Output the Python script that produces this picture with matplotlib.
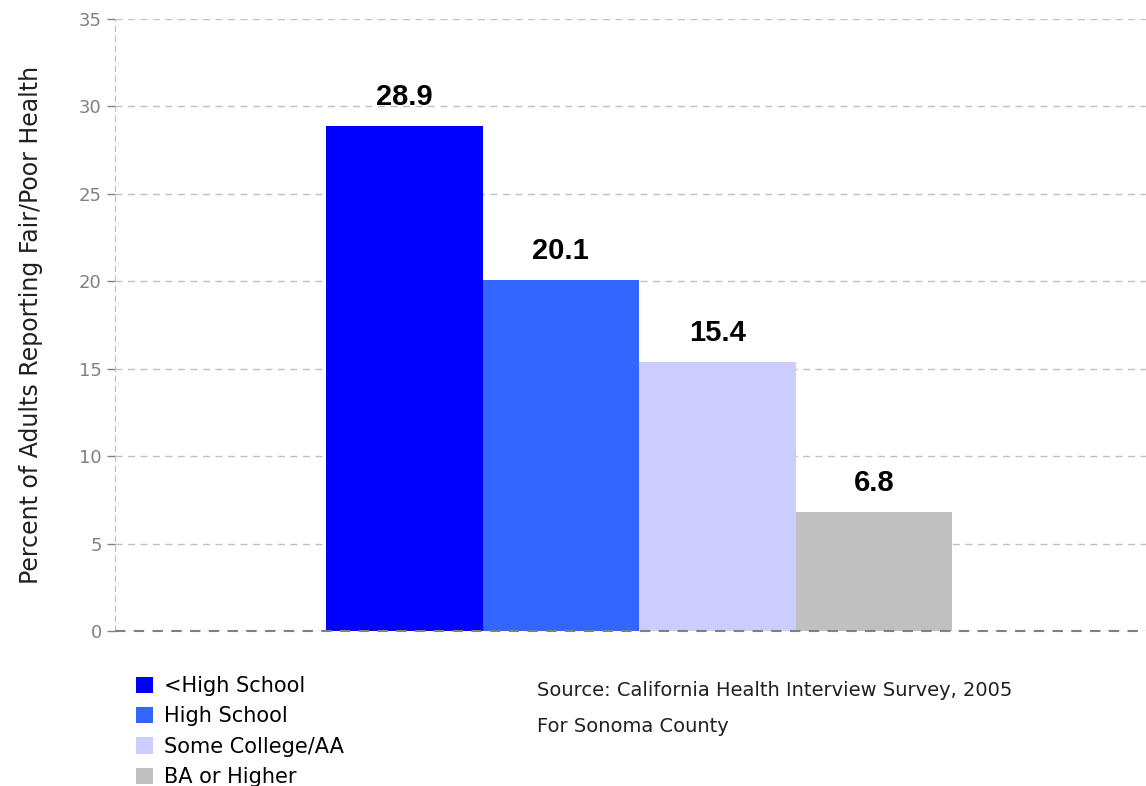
import matplotlib.pyplot as plt
from matplotlib.patches import Patch

categories = ["<High School", "High School", "Some College/AA", "BA or Higher"]
values = [28.9, 20.1, 15.4, 6.8]
colors = ["#0000FF", "#3366FF", "#CCCCFF", "#C0C0C0"]
yticks = [0, 5, 10, 15, 20, 25, 30, 35]

fig = plt.figure(figsize=(11.46, 7.86), dpi=100)
ax = fig.add_axes([0.1003, 0.1972, 0.8997, 0.7786])

x = list(range(len(values)))
ax.bar(x, values, width=1.0, color=colors, zorder=3)
for xi, v in zip(x, values):
    ax.text(xi, v + 0.85, "{:.1f}".format(v), ha="center", va="bottom",
            fontsize=21, fontweight="bold", color="black",
            family=["Liberation Sans", "DejaVu Sans"])

ax.set_xlim(-1.85, 4.74)
ax.set_ylim(0, 35)
ax.set_yticks(yticks)
ax.set_xticks([])
ax.grid(axis="y", color="#C0C0C0", linestyle=(0, (5, 4)), linewidth=1, zorder=0)
for s in ["top", "right", "bottom"]:
    ax.spines[s].set_visible(False)
ax.spines["left"].set_color("#C0C0C0")
ax.spines["left"].set_linestyle((0, (5, 4)))
ax.axhline(0, color="#808080", linestyle=(0, (5, 4)), linewidth=1.5, zorder=5,
           clip_on=False)
ax.tick_params(axis="y", colors="#808080", labelsize=13, length=6, width=1,
               direction="out")
ax.set_ylabel("Percent of Adults Reporting Fair/Poor Health", fontsize=17,
              color="#202020")
ax.yaxis.set_label_coords(-0.07, 0.5)

handles = [Patch(facecolor=c, edgecolor="none") for c in colors]
fig.legend(handles, categories, loc="upper left", bbox_to_anchor=(0.1187, 0.140),
           frameon=False, fontsize=15, handlelength=0.82, handleheight=0.82,
           handletextpad=0.5, labelspacing=0.5, borderaxespad=0, borderpad=0)

fig.text(537 / 1146, 1 - 690 / 786, "Source: California Health Interview Survey, 2005",
         fontsize=14, color="#202020", va="center", ha="left")
fig.text(537 / 1146, 1 - 726 / 786, "For Sonoma County",
         fontsize=14, color="#202020", va="center", ha="left")

fig.savefig("out.png", dpi=100)
